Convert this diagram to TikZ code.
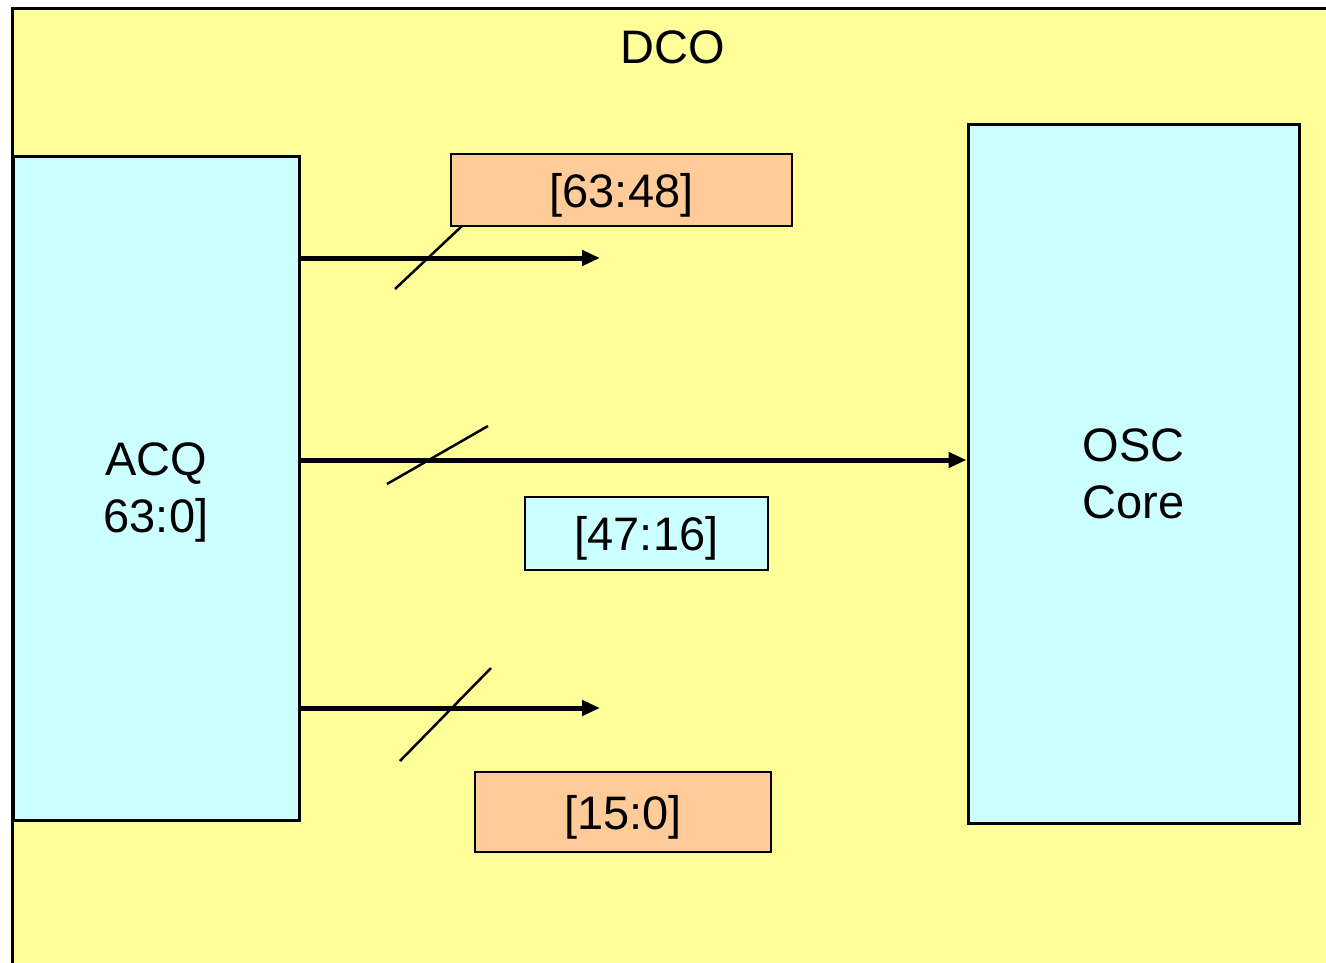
\documentclass[tikz,border=0pt]{standalone}
\usepackage{fontspec}
\setmainfont{Liberation Sans}
\usetikzlibrary{arrows.meta}
\definecolor{dcoyellow}{HTML}{FFFF99}
\definecolor{boxcyan}{HTML}{CCFFFF}
\definecolor{boxorange}{HTML}{FFCC99}
\begin{document}
\begin{tikzpicture}[x=1pt,y=-1pt,
  blk/.style={draw=black, line width=3pt, inner sep=0pt, align=center, text depth=0pt,
    font=\fontsize{47}{57}\selectfont},
  lbl/.style={draw=black, line width=2.5pt, inner sep=0pt, text depth=0pt,
    font=\fontsize{47}{57}\selectfont},
  bus/.style={line width=5pt, -{Triangle[length=18pt,width=15pt]}},
  slash/.style={line width=2.5pt}]
\useasboundingbox (0,0) rectangle (1326,962);
\fill[white] (0,0) rectangle (1326,962);
% outer DCO container
\node[draw=black, line width=3pt, fill=dcoyellow, inner sep=0pt, anchor=north west,
  minimum width=1340pt, minimum height=980pt] (dco) at (11,7) {};
\node[font=\fontsize{47}{57}\selectfont] (dcot) at (673,47) {DCO};
% blocks
\node[blk, fill=boxcyan, minimum width=286pt, minimum height=664pt] (acq) at (156,488) {ACQ\\63:0]};
\node[blk, fill=boxcyan, minimum width=331pt, minimum height=699pt] (osc) at (1133.5,473.5) {OSC\\Core};
% bus labels
\node[lbl, fill=boxorange, minimum width=341pt, minimum height=72pt] (l1) at (621.5,190) {[63:48]};
\node[lbl, fill=boxcyan, minimum width=243pt, minimum height=73pt] (l2) at (646.5,533.5) {[47:16]};
\node[lbl, fill=boxorange, minimum width=296pt, minimum height=80pt] (l3) at (623,812) {[15:0]};
% bus arrows
\coordinate (e1) at (600,258);
\coordinate (e2) at (970,460);
\coordinate (e3) at (600,708);
\draw[bus] (acq.east |- e1) -- (e1);
\draw[bus] (acq.east |- e2) -- (osc.west |- e2);
\draw[bus] (acq.east |- e3) -- (e3);
% bus-width slashes
\coordinate (s1a) at (395,289); \coordinate (s1b) at (462,226);
\coordinate (s2a) at (387,484); \coordinate (s2b) at (488,426);
\coordinate (s3a) at (400,761); \coordinate (s3b) at (491,668);
\draw[slash] (s1a) -- (s1b);
\draw[slash] (s2a) -- (s2b);
\draw[slash] (s3a) -- (s3b);
\end{tikzpicture}
\end{document}
